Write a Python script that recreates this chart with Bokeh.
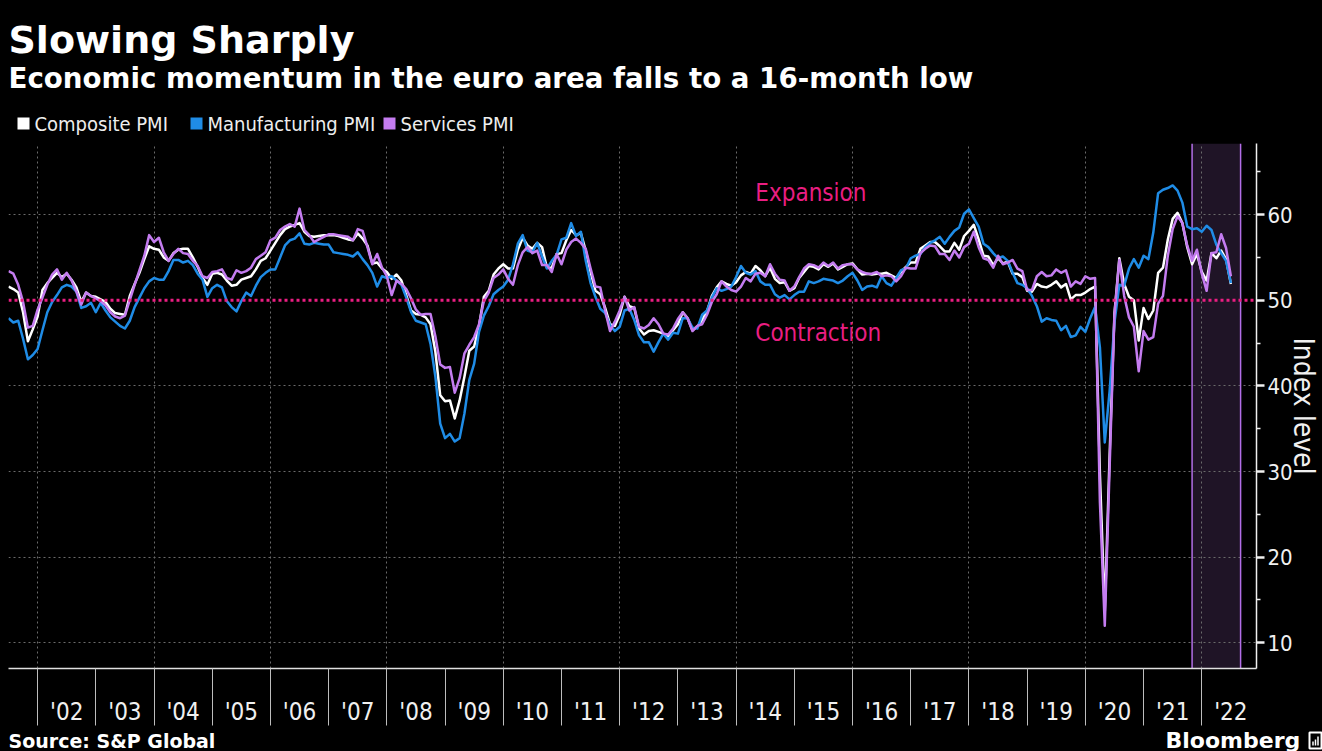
from bokeh.plotting import figure
from bokeh.models import Range1d, FixedTicker, CustomJSTickFormatter, Span, BoxAnnotation, Label
from bokeh.core.properties import value
from bokeh.embed import file_html
from bokeh.resources import INLINE

# ---------------- data (monthly, first value = June 2001) ----------------
start_year, start_month = 2001, 6

composite = [
    51.6, 51.3, 50.9, 48.6, 45.2, 46.6, 48.1,                               # 2001 Jun-Dec
    51.2, 52.0, 52.6, 53.2, 52.7, 53.1, 52.4, 51.5, 49.8, 50.9, 50.5, 50.4,  # 2002
    50.1, 49.8, 49.0, 48.5, 48.4, 48.3, 50.5, 51.9, 53.2, 54.8, 56.3, 56.0,  # 2003
    55.9, 55.0, 54.6, 55.5, 55.9, 56.0, 56.0, 55.0, 53.9, 52.6, 51.8, 53.1,  # 2004
    53.2, 53.0, 52.3, 51.7, 51.8, 52.4, 52.6, 52.8, 53.6, 54.6, 54.9, 55.8,  # 2005
    56.7, 57.6, 58.3, 58.6, 58.8, 59.0, 58.0, 57.5, 57.4, 57.5, 57.6, 57.6,  # 2006
    57.6, 57.5, 57.3, 57.1, 57.0, 57.8, 57.2, 56.4, 54.3, 54.4, 53.7, 53.3,  # 2007
    52.5, 53.0, 52.3, 50.6, 48.8, 48.4, 48.3, 48.0, 47.2, 44.0, 38.9, 38.2,  # 2008
    38.3, 36.2, 38.3, 41.1, 44.1, 44.6, 47.0, 50.4, 51.1, 53.0, 53.7, 54.2,  # 2009
    53.7, 53.7, 55.9, 57.3, 56.4, 56.0, 56.7, 56.2, 53.8, 53.8, 55.4, 55.5,  # 2010
    57.0, 58.2, 57.6, 57.8, 55.8, 53.3, 51.1, 50.7, 49.1, 47.2, 47.0, 48.3,  # 2011
    50.4, 49.3, 49.1, 46.7, 46.0, 46.4, 46.5, 46.3, 46.1, 45.7, 46.5, 47.2,  # 2012
    48.6, 47.9, 46.5, 46.9, 47.7, 48.7, 50.5, 51.5, 52.2, 51.9, 51.7, 52.1,  # 2013
    52.9, 53.3, 53.1, 54.0, 53.5, 52.8, 53.8, 52.5, 52.0, 52.1, 51.1, 51.4,  # 2014
    52.6, 53.3, 54.0, 53.9, 53.6, 54.2, 53.9, 54.3, 53.6, 53.9, 54.2, 54.3,  # 2015
    53.6, 53.0, 53.1, 53.0, 53.1, 53.1, 53.2, 52.9, 52.6, 53.3, 53.9, 54.4,  # 2016
    54.4, 56.0, 56.4, 56.8, 56.8, 56.3, 55.7, 55.7, 56.7, 55.9, 57.5, 58.1,  # 2017
    58.8, 57.1, 55.2, 55.1, 54.1, 54.9, 54.3, 54.5, 53.1, 53.1, 52.7, 51.1,  # 2018
    51.0, 51.9, 51.6, 51.5, 51.8, 52.2, 51.5, 51.9, 50.1, 50.6, 50.6, 50.9,  # 2019
    51.3, 51.6, 29.7, 13.6, 31.9, 48.5, 54.9, 51.9, 50.4, 50.0, 45.3, 49.1,  # 2020
    47.8, 48.8, 53.2, 53.8, 57.1, 59.5, 60.2, 59.0, 56.2, 54.2, 55.4, 53.3,  # 2021
    52.3, 55.5, 54.9, 55.8, 54.8, 51.9,                                      # 2022 Jan-Jun
]

manufacturing = [
    47.9, 47.4, 47.6, 45.5, 43.1, 43.6, 44.3,
    46.5, 48.6, 49.8, 50.6, 51.5, 51.8, 51.6, 51.0, 49.1, 49.3, 49.7, 48.6,
    49.7, 48.8, 48.0, 47.5, 47.0, 46.7, 47.6, 49.2, 50.3, 51.4, 52.2, 52.6,
    52.4, 52.4, 53.4, 54.7, 54.7, 54.4, 54.6, 54.1, 53.1, 52.4, 50.4, 51.4,
    51.8, 51.5, 49.9, 49.2, 48.7, 49.9, 50.9, 50.5, 51.7, 52.7, 53.2, 53.6,
    53.6, 55.0, 56.4, 57.0, 57.2, 57.8, 56.6, 56.5, 56.7, 56.6, 56.5, 56.5,
    55.6, 55.5, 55.4, 55.3, 55.1, 55.6, 54.8, 54.1, 53.2, 51.6, 52.8, 52.6,
    52.8, 52.3, 51.8, 50.3, 48.6, 47.6, 47.4, 47.2, 44.9, 41.1, 35.6, 33.9,
    34.4, 33.5, 33.9, 36.8, 40.7, 42.6, 46.3, 48.2, 49.3, 50.7, 51.2, 51.6,
    52.4, 54.2, 56.6, 57.6, 55.8, 55.6, 56.7, 55.1, 53.7, 54.6, 55.3, 57.1,
    57.3, 59.0, 57.5, 58.0, 54.6, 52.0, 50.4, 49.0, 48.5, 47.1, 46.4, 46.9,
    48.8, 49.0, 47.7, 45.9, 45.1, 45.1, 44.0, 45.1, 46.1, 45.4, 46.2, 46.1,
    47.9, 47.9, 46.8, 46.7, 48.3, 48.8, 50.3, 51.4, 51.1, 51.3, 51.6, 52.7,
    54.0, 53.2, 53.0, 53.4, 52.2, 51.8, 51.8, 50.7, 50.3, 50.6, 50.1, 50.6,
    51.0, 51.0, 52.2, 52.0, 52.2, 52.5, 52.4, 52.3, 52.0, 52.3, 52.8, 53.2,
    52.3, 51.2, 51.6, 51.7, 51.5, 52.8, 52.0, 51.7, 52.6, 53.5, 53.7, 54.9,
    55.2, 55.4, 56.2, 56.7, 57.0, 57.4, 56.6, 57.4, 58.1, 58.5, 60.1, 60.6,
    59.6, 58.6, 56.6, 56.2, 55.5, 54.9, 55.1, 54.6, 53.2, 52.0, 51.8, 51.4,
    50.5, 49.3, 47.5, 47.9, 47.7, 47.6, 46.5, 47.0, 45.7, 45.9, 46.9, 46.3,
    47.9, 49.2, 44.5, 33.4, 39.4, 47.4, 51.8, 51.7, 53.7, 54.8, 53.8, 55.2,
    54.8, 57.9, 62.5, 62.9, 63.1, 63.4, 62.8, 61.4, 58.6, 58.3, 58.4, 58.0,
    58.7, 58.2, 56.5, 55.5, 54.6, 52.0,
]

services = [
    53.4, 53.1, 51.8, 49.8, 46.8, 47.0, 48.9,
    50.3, 51.8, 53.0, 53.6, 52.4, 53.2, 52.3, 51.0, 49.5, 50.9, 50.5, 50.2,
    49.9, 49.4, 48.6, 48.1, 47.9, 48.2, 50.0, 51.8, 53.5, 55.2, 57.6, 56.8,
    57.3, 55.6, 54.6, 55.4, 56.0, 55.5, 55.4, 54.6, 54.0, 52.8, 52.6, 53.3,
    53.4, 53.6, 52.6, 52.4, 53.5, 53.2, 53.4, 53.8, 54.8, 55.2, 55.6, 57.0,
    57.3, 58.2, 58.6, 58.9, 58.6, 60.7, 58.2, 57.6, 56.8, 57.1, 57.4, 57.7,
    57.7, 57.6, 57.5, 57.4, 57.0, 58.3, 58.1, 56.2, 54.2, 55.4, 53.8, 52.8,
    50.6, 52.3, 51.9, 51.3, 50.2, 48.9, 48.3, 48.4, 48.4, 45.8, 42.5, 42.1,
    42.2, 39.2, 40.9, 43.8, 44.8, 45.7, 47.2, 49.9, 50.9, 52.6, 53.0, 53.6,
    52.5, 51.8, 54.1, 55.6, 56.2, 55.5, 55.8, 54.1, 54.1, 53.3, 55.4, 54.2,
    55.9, 56.8, 57.2, 56.7, 56.0, 53.7, 51.6, 51.5, 48.8, 46.4, 47.5, 48.8,
    50.4, 48.8, 49.2, 46.9, 46.7, 47.1, 47.9, 47.2, 46.1, 46.0, 46.7, 47.8,
    48.6, 47.9, 46.4, 47.0, 47.2, 48.3, 49.8, 50.7, 52.2, 51.6, 51.2, 51.0,
    51.6, 52.6, 52.2, 53.1, 53.2, 52.8, 54.2, 53.1, 52.4, 52.3, 51.1, 51.6,
    52.7, 53.7, 54.2, 54.1, 53.8, 54.4, 54.0, 54.4, 53.7, 54.1, 54.2, 54.2,
    53.6, 53.3, 53.1, 53.1, 53.3, 52.8, 52.9, 52.8, 52.2, 52.8, 53.8, 53.7,
    53.7, 55.5, 56.0, 56.4, 56.3, 55.4, 55.4, 54.7, 55.8, 55.0, 56.2, 56.6,
    58.0, 56.2, 54.9, 54.7, 53.8, 55.2, 54.2, 54.4, 54.7, 53.7, 53.4, 51.2,
    51.2, 52.8, 53.3, 52.8, 52.9, 53.6, 53.2, 53.5, 51.6, 52.2, 51.9, 52.8,
    52.5, 52.6, 26.4, 12.0, 30.5, 48.3, 54.7, 50.5, 48.0, 46.9, 41.7, 46.4,
    45.4, 45.7, 49.6, 50.5, 55.2, 58.3, 59.8, 59.0, 56.4, 54.6, 55.9, 53.1,
    51.1, 55.5, 55.6, 57.7, 56.1, 52.8,
]

series_names = ["Composite PMI", "Manufacturing PMI", "Services PMI"]
series_colors = ["#ffffff", "#1f8ce6", "#c47cf0"]

year_ticks = list(range(2002, 2023))           # year boundaries
grid_years = list(range(2002, 2023, 2))        # dotted vertical gridlines
y_major = [10, 20, 30, 40, 50, 60]
y_minor = [15, 25, 35, 45, 55, 65]
y_grid = [10, 20, 30, 40, 60]
threshold = 50
highlight_start, highlight_end = 2021 + 10 / 12, 2022 + 8 / 12

title = "Slowing Sharply"
subtitle = "Economic momentum in the euro area falls to a 16-month low"
source = "Source: S&P Global"
brand = "Bloomberg"
y_title = "Index level"

# end-of-month decimal dates
dates = [start_year + (start_month + i) / 12 for i in range(len(composite))]

REG = "DejaVu Sans Condensed"
BOLD = "DejaVu Sans"
PINK = "#ea1e82"
W = 1322
HEAD_H, MAIN_H, FOOT_H = 143, 585, 23


def blank(height, y_top):
    # a text-only strip whose data coordinates are the page's pixel coordinates
    f = figure(width=W, height=height, output_backend="svg", toolbar_location=None,
               x_range=Range1d(0, W), y_range=Range1d(y_top + height, y_top),
               x_axis_location=None, y_axis_location=None,
               min_border=0, background_fill_color="#000000", border_fill_color="#000000",
               outline_line_color=None)
    f.grid.visible = False
    return f


# ---------------- header ----------------
head = blank(HEAD_H, 0)
head.text(x=[8], y=[39], text=[title], text_font=value(BOLD), text_font_style="bold",
          text_font_size="38px", text_color="#ffffff", text_baseline="middle")
head.text(x=[8], y=[78], text=[subtitle], text_font=value(BOLD), text_font_style="bold",
          text_font_size="27.7px", text_color="#ffffff", text_baseline="middle")
legend_x = [17, 190, 383]
head.rect(x=[lx + 6 for lx in legend_x], y=[123] * 3, width=12, height=12,
          fill_color=series_colors, line_color=None)
head.text(x=[lx + 17 for lx in legend_x], y=[123] * 3, text=series_names,
          text_font=value(REG), text_font_size="20px", text_color="#eeeeee",
          text_baseline="middle")

# ---------------- main chart ----------------
p = figure(width=W, height=MAIN_H, output_backend="svg", toolbar_location=None,
           x_range=Range1d(2001.5, 2022.94), y_range=Range1d(7.0, 68.3),
           y_axis_location="right",
           min_border_left=8, min_border_right=65, min_border_top=0, min_border_bottom=60,
           background_fill_color="#000000", border_fill_color="#000000",
           outline_line_color=None)

p.add_layout(BoxAnnotation(left=highlight_start, right=highlight_end, fill_color="#1f1426",
                           fill_alpha=1.0, line_color=None, level="image"))
for loc in (highlight_start, highlight_end):
    p.add_layout(Span(location=loc, dimension="height", line_color="#b36ee8",
                      line_width=1.5, level="underlay"))

p.xgrid.ticker = FixedTicker(ticks=grid_years)
p.ygrid.ticker = FixedTicker(ticks=y_grid)
for g in (p.xgrid, p.ygrid):
    g.grid_line_color = "#6a6a6a"
    g.grid_line_dash = "2 3"
    g.grid_line_width = 1

for vals, name, col in zip([composite, manufacturing, services], series_names, series_colors):
    p.line(dates, vals, line_color=col, line_width=2.5, line_join="round")

p.add_layout(Span(location=threshold, dimension="width", line_color=PINK,
                  line_width=3, line_dash="3 3"))

xa = p.xaxis[0]
xa.ticker = FixedTicker(ticks=[y + 0.5 for y in year_ticks], minor_ticks=year_ticks)
xa.formatter = CustomJSTickFormatter(code="return \"'\" + String(Math.floor(tick) % 100).padStart(2, '0');")
xa.major_tick_out = 0
xa.major_tick_in = 0
xa.minor_tick_out = 57
xa.minor_tick_in = 0
xa.minor_tick_line_color = "#bdbdbd"
xa.minor_tick_line_width = 1
xa.axis_line_color = "#e0e0e0"
xa.axis_line_width = 1.5
xa.major_label_standoff = -28
xa.major_label_text_color = "#f0f0f0"
xa.major_label_text_font = REG
xa.major_label_text_font_size = "24px"

ya = p.yaxis[0]
ya.ticker = FixedTicker(ticks=y_major, minor_ticks=y_minor)
ya.major_tick_out = 8
ya.major_tick_in = 0
ya.major_tick_line_width = 2.5
ya.major_tick_line_color = "#f0f0f0"
ya.minor_tick_out = 4
ya.minor_tick_in = 0
ya.minor_tick_line_color = "#f0f0f0"
ya.minor_tick_line_width = 1.5
ya.axis_line_color = "#f0f0f0"
ya.axis_line_width = 1.5
ya.major_label_standoff = 3
ya.major_label_text_color = "#f0f0f0"
ya.major_label_text_font = REG
ya.major_label_text_font_size = "22px"
ya.axis_label = y_title
ya.axis_label_text_font = REG
ya.axis_label_text_font_style = "normal"
ya.axis_label_text_font_size = "28px"
ya.axis_label_text_color = "#f0f0f0"
ya.axis_label_standoff = -9

p.add_layout(Label(x=2014.33, y=62.5, text="Expansion", text_color=PINK, text_font=REG,
                   text_font_size="24px", text_baseline="middle"))
p.add_layout(Label(x=2014.33, y=46.2, text="Contraction", text_color=PINK, text_font=REG,
                   text_font_size="24px", text_baseline="middle"))

# ---------------- footer ----------------
foot = blank(FOOT_H, HEAD_H + MAIN_H)
foot.text(x=[8], y=[740], text=[source], text_font=value(BOLD), text_font_style="bold",
          text_font_size="19px", text_color="#ffffff", text_baseline="middle")
foot.text(x=[1165], y=[739.5], text=[brand], text_font=value(BOLD), text_font_style="bold",
          text_font_size="22px", text_color="#ffffff", text_baseline="middle")
foot.rect(x=[1315], y=[740], width=12, height=16, fill_color=None, line_color="#ffffff", line_width=2)
foot.vbar(x=[1312.5, 1315, 1317.5], bottom=[745, 745, 745], top=[741, 739, 736], width=1.5,
          fill_color="#ffffff", line_color=None)

html = file_html([head, p, foot], INLINE, title=title)
html = html.replace("</head>", "<style>html,body{margin:0;padding:0;background:#000000;}</style></head>", 1)
open("out.html", "w").write(html)
